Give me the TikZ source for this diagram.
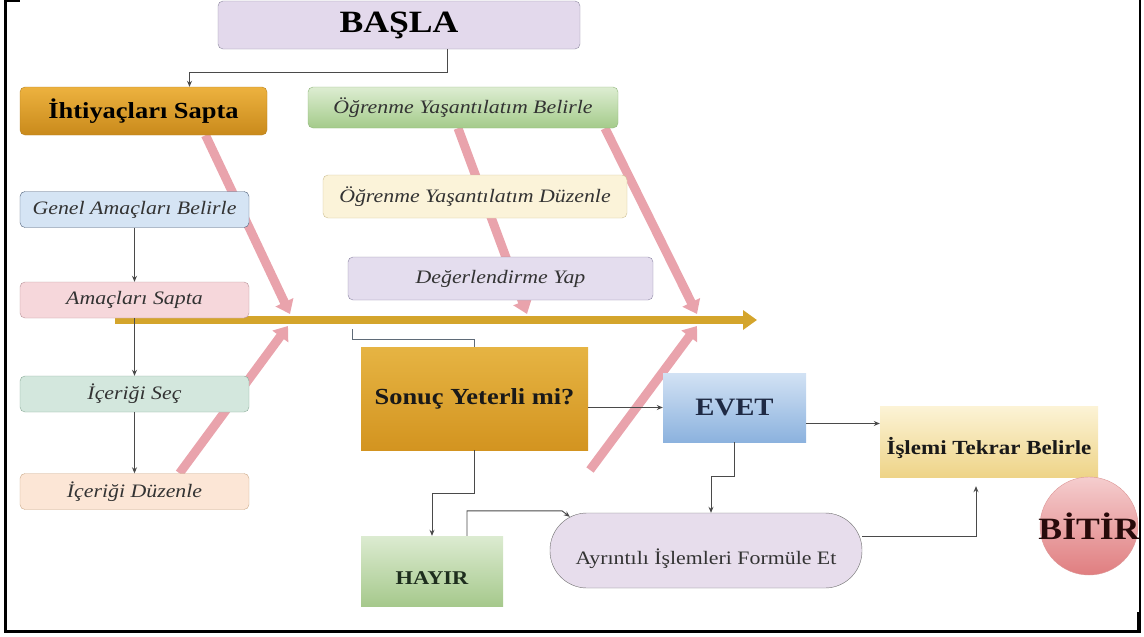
\documentclass[tikz,border=0pt]{standalone}
\usepackage{fontspec}
\setmainfont{Liberation Serif}[FakeStretch=1.15]
\usepackage{tikz}
\usetikzlibrary{arrows.meta}
\usetikzlibrary{scopes}

\definecolor{axisgold}{HTML}{D4A52C}
\definecolor{bonepink}{HTML}{E9A3AC}
\definecolor{linegray}{HTML}{4A4A4A}
\definecolor{wiregray}{HTML}{5F6B78}

\pgfdeclarelayer{bg}
\pgfsetlayers{bg,main}

\begin{document}
\begin{tikzpicture}[x=1pt,y=-1pt,
    tag/.style={draw,rounded corners=5pt,inner sep=2pt,text=black!80,
                font=\fontsize{19}{22}\selectfont\itshape},
    flat/.style={inner sep=2pt,text=black!90},
    link/.style={draw=linegray,line width=0.9pt,-{Stealth[length=6pt,width=5pt]}},
    wire/.style={draw=wiregray,line width=0.9pt},
    bone/.style={draw=bonepink,line width=9pt,-{Triangle[length=13pt,width=19pt]}}]
\useasboundingbox (0,0) rectangle (1144,637);

\begin{scope}
\clip (7,0) rectangle (1138,630);

% top row
\node[tag,font=\fontsize{31}{34}\selectfont\bfseries,text=black,
      fill={rgb,255:red,227;green,217;blue,236},draw={rgb,255:red,142;green,138;blue,160},
      minimum width=362,minimum height=48] (basla) at (399,25) {BAŞLA};
\node[tag,font=\fontsize{23}{26}\selectfont\bfseries,text=black,
      top color={rgb,255:red,237;green,178;blue,63},bottom color={rgb,255:red,201;green,138;blue,27},
      draw={rgb,255:red,181;green,128;blue,32},
      minimum width=247,minimum height=48] (ihtiyac) at (143.5,111) {İhtiyaçları Sapta};
\node[tag,top color={rgb,255:red,221;green,237;blue,210},bottom color={rgb,255:red,164;green,203;blue,138},
      draw={rgb,255:red,143;green,181;blue,122},
      minimum width=310,minimum height=41] (ogrbel) at (463,107.5) {Öğrenme Yaşantılatım Belirle};

% left column
\begin{scope}[every node/.style={tag,minimum width=229,minimum height=36}]
    \node[fill={rgb,255:red,213;green,228;blue,244},draw={rgb,255:red,79;green,95;blue,120}]
        (genel) at (134.5,209.5) {Genel Amaçları Belirle};
    \node[fill={rgb,255:red,246;green,215;blue,219},draw={rgb,255:red,184;green,148;blue,154}]
        (amac) at (134.5,300) {Amaçları Sapta};
    \node[fill={rgb,255:red,211;green,231;blue,221},draw={rgb,255:red,139;green,170;blue,153}]
        (icsec) at (134.5,394) {İçeriği Seç};
    \node[fill={rgb,255:red,252;green,230;blue,214},draw={rgb,255:red,203;green,170;blue,138}]
        (icduz) at (134.5,491.5) {İçeriği Düzenle};
\end{scope}

% middle column
\begin{scope}[every node/.style={tag,minimum height=43}]
    \node[fill={rgb,255:red,251;green,243;blue,217},draw={rgb,255:red,205;green,191;blue,147},
          minimum width=304] (ogrduz) at (475,196.5) {Öğrenme Yaşantılatım Düzenle};
    \node[fill={rgb,255:red,228;green,221;blue,238},draw={rgb,255:red,140;green,133;blue,163},
          minimum width=305] (dgr) at (500.5,278.5) {Değerlendirme Yap};
\end{scope}

% decision part
\node[flat,font=\fontsize{23}{26}\selectfont\bfseries,
      top color={rgb,255:red,230;green,180;blue,67},bottom color={rgb,255:red,211;green,148;blue,32},
      minimum width=227,minimum height=103] (sonuc) at (474.5,398.5) {Sonuç Yeterli mi?};
\node[flat,font=\fontsize{25}{28}\selectfont\bfseries,text={rgb,255:red,31;green,42;blue,68},
      top color={rgb,255:red,210;green,226;blue,244},bottom color={rgb,255:red,140;green,178;blue,222},
      minimum width=143,minimum height=69] (evet) at (734.5,407.5) {EVET};
\node[flat,top color={rgb,255:red,220;green,235;blue,209},bottom color={rgb,255:red,166;green,201;blue,140},
      minimum width=142,minimum height=70,
      label={[font=\fontsize{19.5}{22}\selectfont\bfseries,text={rgb,255:red,30;green,46;blue,30},
              yshift=-7pt]center:HAYIR}] (hayir) at (432,571) {};
\node[flat,top color={rgb,255:red,252;green,243;blue,214},bottom color={rgb,255:red,238;green,212;blue,136},
      minimum width=218,minimum height=71,
      label={[font=\fontsize{20}{23}\selectfont\bfseries,text=black!90,
              yshift=-6pt]center:İşlemi Tekrar Belirle}] (islem) at (989,441.5) {};
\node[tag,rounded corners=37pt,
      fill={rgb,255:red,231;green,221;blue,236},draw={rgb,255:red,110;green,110;blue,110},
      minimum width=312,minimum height=75,
      label={[font=\fontsize{19}{22}\selectfont,text=black!80,
              yshift=-8pt]center:Ayrıntılı İşlemleri Formüle Et}] (ayrin) at (706,550.5) {};
\node[circle,inner sep=0pt,minimum size=98,
      top color={rgb,255:red,245;green,205;blue,206},bottom color={rgb,255:red,224;green,126;blue,128},
      draw={rgb,255:red,220;green,150;blue,150},
      label={[font=\fontsize{31}{34}\selectfont\bfseries,text={rgb,255:red,40;green,10;blue,10}]center:BİTİR}]
      (bitir) at (1089,526) {};

% fishbone behind the boxes
\coordinate (spine) at (115,320);
\coordinate (head) at (757,320);
\coordinate (bonetail) at (590,470);
\begin{pgfonlayer}{bg}
    \draw[draw=axisgold,line width=8pt,-{Triangle[length=14pt,width=19pt]}] (spine) -- (head);
    \draw[bone] ([xshift=62pt]ihtiyac.south) -- (290,314);
    \draw[bone] ([xshift=45pt]icduz.north) -- (288,326);
    \draw[bone] ([xshift=-5pt]ogrbel.south) -- (527,314);
    \draw[bone] ([xshift=142pt]ogrbel.south) -- (697,314);
    \draw[bone] (bonetail) -- (697,326);
\end{pgfonlayer}

% connectors
\draw[link] ([xshift=48pt]basla.south) -- ++(0,23) -| ([xshift=46pt]ihtiyac.north);
\draw[link] (genel) -- (amac);
\draw[link] (amac) -- (icsec);
\draw[link] (icsec) -- (icduz);
\coordinate (dgrtail) at (352,329);
\draw[wire] (dgrtail) -- ++(0,10) -| (sonuc.north);
\draw[link] (sonuc.east |- evet.west) -- (evet.west);
\draw[link] (sonuc.south) -- ++(0,43) -| (hayir.north);
\draw[link] ([xshift=35pt]hayir.north) -- ++(0,-25) -- ++(95,0) -- ([xshift=20pt,yshift=-4pt]ayrin.north west);
\draw[link] (evet.south) -- ++(0,34) -| ([xshift=5pt]ayrin.north);
\draw[link] ([yshift=-16pt]evet.east) -- ([yshift=-16pt]evet.east -| islem.west);
\draw[link,shorten >=9pt] ([yshift=14pt]ayrin.east) -| ([xshift=-13pt]islem.south);
\end{scope}

% frame of the picture
\draw[line width=3pt] (5,0) -- (5,631.5) -- (1140,631.5);
\draw[line width=2pt] (1139.5,0) -- (1139.5,633);
\draw[line width=4pt] (1139,612) -- (1139,633);
\draw[line width=2.5pt] (4,1.2) -- (20,1.2);
\end{tikzpicture}
\end{document}
